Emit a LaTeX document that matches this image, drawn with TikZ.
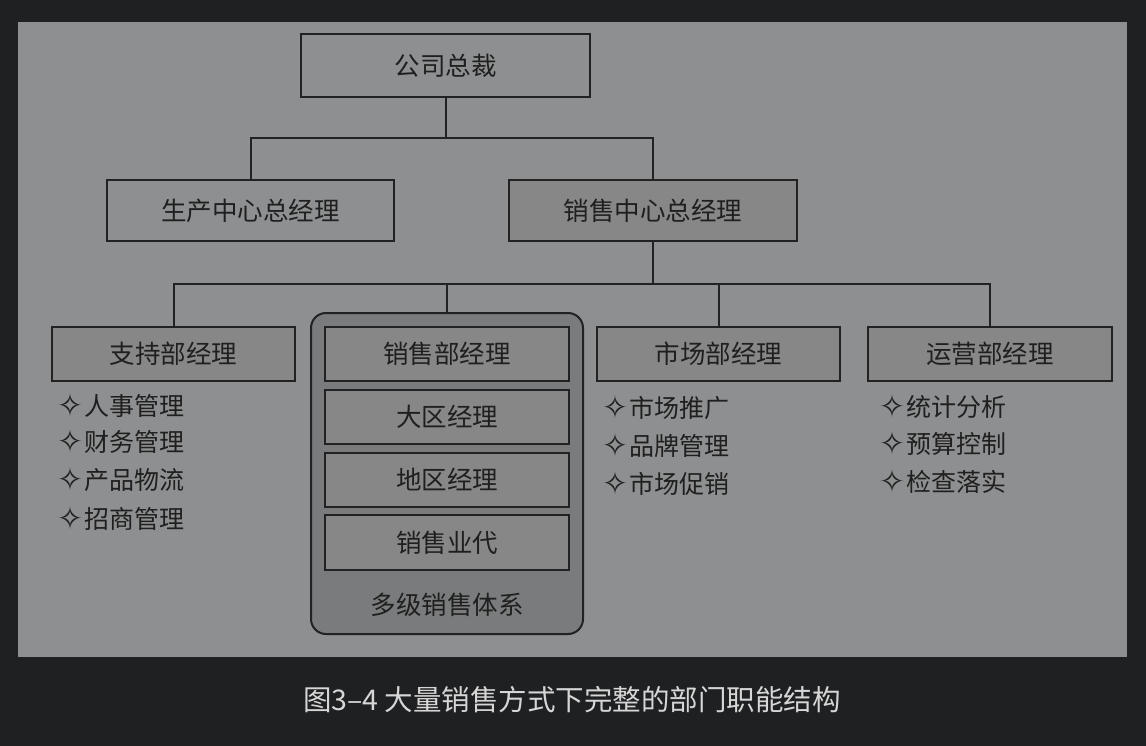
\documentclass[tikz,border=0pt]{standalone}
\usepackage{fontspec}
\newfontfamily\cjk{Noto Sans CJK SC}
\newfontfamily\sym{DejaVu Sans}
\definecolor{outerbg}{HTML}{1F2022}
\definecolor{panel}{HTML}{8E8F90}
\definecolor{boxfill}{HTML}{878788}
\definecolor{contfill}{HTML}{7A7B7C}
\definecolor{edge}{HTML}{222222}
\definecolor{captxt}{HTML}{D6D6D6}
\tikzset{
  x=1pt, y=-1pt,
  plain/.style={draw=edge, line width=2pt, fill=panel, inner sep=0pt, font=\cjk\fontsize{25.5}{30}\selectfont, text=black!88},
  grayb/.style={plain, fill=boxfill},
  conn/.style={draw=edge, line width=2pt},
  item/.style={anchor=west, inner sep=0pt, font=\cjk\fontsize{25}{30}\selectfont, text=black!88},
}
\newcommand{\bul}{\raisebox{-1pt}{\sym\fontsize{31}{34}\selectfont ✧}\hspace{1pt}}
\begin{document}
\begin{tikzpicture}
\useasboundingbox (0,0) rectangle (1146,746);
\fill[outerbg] (0,0) rectangle (1146,746);
\fill[panel] (18,22) rectangle (1127,657);

% top
\node[plain, minimum width=289pt, minimum height=63pt] (ceo) at (445.5,65.5) {公司总裁};
\node[plain, minimum width=287pt, minimum height=61pt] (prod) at (250.5,210.5) {生产中心总经理};
\node[grayb, minimum width=288pt, minimum height=61pt] (sales) at (653,210.5) {销售中心总经理};

% second level
\node[grayb, minimum width=243pt, minimum height=54pt] (supp) at (173.5,354) {支持部经理};
\draw[draw=edge, line width=2pt, fill=contfill, rounded corners=15pt] (311,313) rectangle (583,634);
\coordinate (cont) at (447,313);
\node[grayb, minimum width=244pt, minimum height=54pt] (s1) at (447,354) {销售部经理};
\node[grayb, minimum width=244pt, minimum height=54pt] (s2) at (447,417) {大区经理};
\node[grayb, minimum width=244pt, minimum height=54pt] (s3) at (447,480) {地区经理};
\node[grayb, minimum width=244pt, minimum height=55pt] (s4) at (447,542.5) {销售业代};
\node[inner sep=0pt, font=\cjk\fontsize{25.5}{30}\selectfont, text=black!88] (multi) at (447,605) {多级销售体系};
\node[grayb, minimum width=243pt, minimum height=54pt] (mkt) at (718.5,354) {市场部经理};
\node[grayb, minimum width=244pt, minimum height=54pt] (ops) at (990,354) {运营部经理};

% connectors
\coordinate (j1) at (445.5,138);
\coordinate (j2) at (653,284);
\draw[conn] (ceo.south) -- (j1);
\draw[conn] (prod.north) |- (j1);
\draw[conn] (sales.north) |- (j1);
\draw[conn] (sales.south) -- (j2);
\draw[conn] (supp.north) |- (j2);
\draw[conn] (ops.north) |- (j2);
\draw[conn] (mkt.north) -- (mkt.north |- j2);
\draw[conn] (cont) -- (cont |- j2);

% lists
\node[item] (a1) at (57,405) {\bul 人事管理};
\node[item] (a2) at (57,441) {\bul 财务管理};
\node[item] (a3) at (57,480) {\bul 产品物流};
\node[item] (a4) at (57,518) {\bul 招商管理};
\node[item] (b1) at (602,408) {\bul 市场推广};
\node[item] (b2) at (602,445) {\bul 品牌管理};
\node[item] (b3) at (602,483) {\bul 市场促销};
\node[item] (c1) at (879,406) {\bul 统计分析};
\node[item] (c2) at (879,443) {\bul 预算控制};
\node[item] (c3) at (879,481) {\bul 检查落实};

% caption
\node[inner sep=0pt, font=\cjk\fontsize{28.5}{34}\selectfont, text=captxt] (cap) at (572,700) {图3–4 大量销售方式下完整的部门职能结构};
\end{tikzpicture}
\end{document}
